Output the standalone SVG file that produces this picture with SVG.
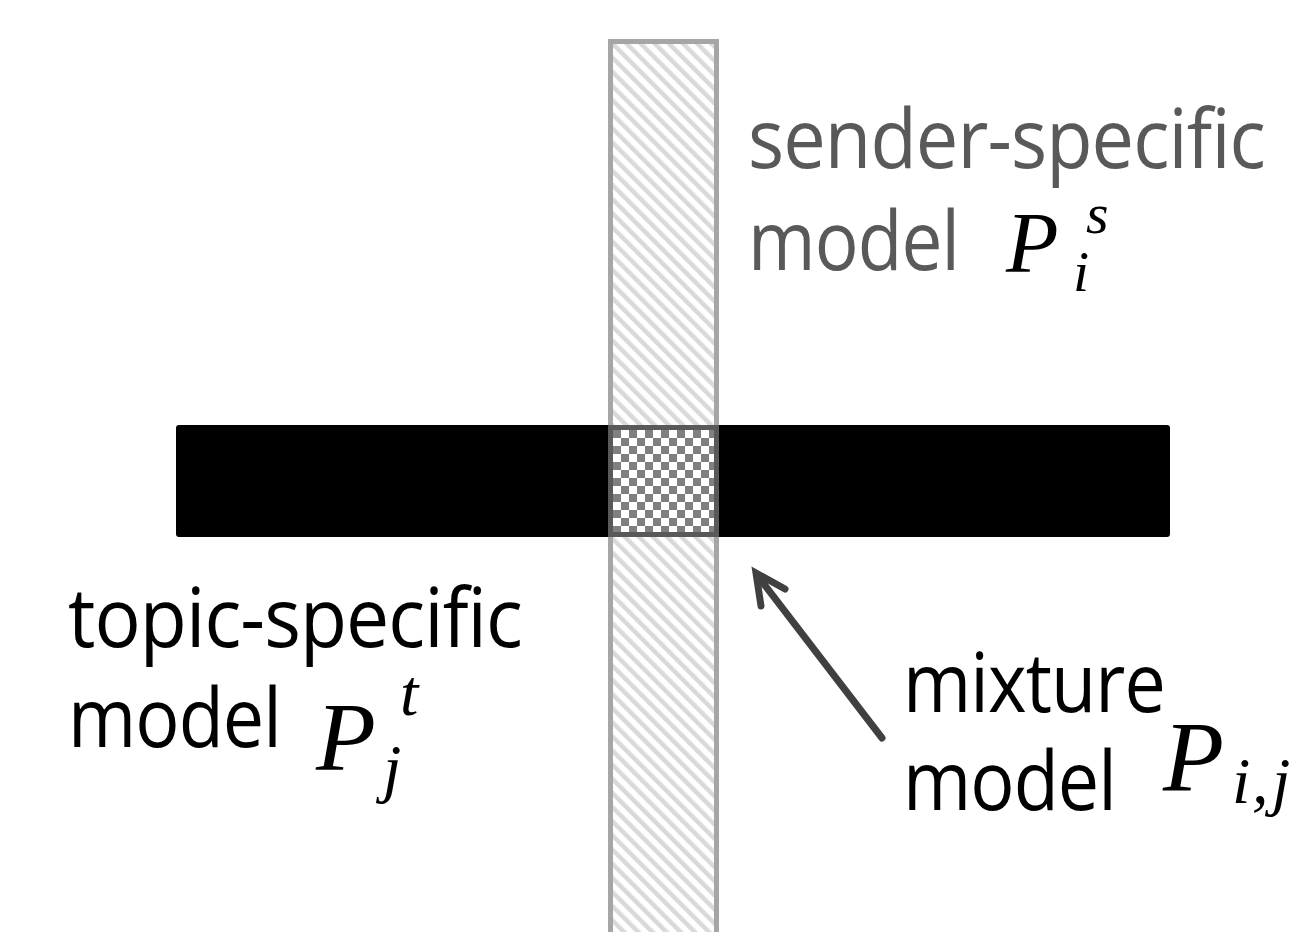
<svg xmlns="http://www.w3.org/2000/svg" width="1309" height="932" viewBox="0 0 1309 932">
  <style>
    .lbl { font-family: "Open Sans", "Liberation Sans", sans-serif; font-size: 82px; letter-spacing: -1px; }
    .math { font-family: "Liberation Serif", "DejaVu Serif", serif; font-style: italic; }
  </style>
  <defs>
    <pattern id="hatch" patternUnits="userSpaceOnUse" width="10" height="10" patternTransform="rotate(-45)">
      <rect width="10" height="10" fill="#ffffff"/>
      <rect x="0" y="0" width="4.5" height="10" fill="#d9d9d9"/>
    </pattern>
    <pattern id="checker" patternUnits="userSpaceOnUse" x="613" y="430" width="16" height="16">
      <rect width="16" height="16" fill="#ffffff"/>
      <rect x="0" y="0" width="8" height="8" fill="#808080"/>
      <rect x="8" y="8" width="8" height="8" fill="#808080"/>
    </pattern>
  </defs>
  <rect width="1309" height="932" fill="#ffffff"/>

  <g id="sender-bar">
    <rect x="610.5" y="41.5" width="106" height="900" fill="url(#hatch)" stroke="#a6a6a6" stroke-width="5"/>
  </g>
  <g id="topic-bar">
    <rect x="176" y="425" width="994" height="112" rx="3" fill="#000000"/>
  </g>
  <g id="mixture-cell">
    <rect x="610.5" y="427.5" width="106" height="107" fill="url(#checker)" stroke="#595959" stroke-width="5"/>
  </g>

  <g id="connectors">
    <line x1="882" y1="738" x2="757" y2="575" stroke="#404040" stroke-width="7" stroke-linecap="round"/>
    <polyline points="785,589 756,573 761,606" fill="none" stroke="#404040" stroke-width="7" stroke-linecap="round" stroke-linejoin="miter"/>
  </g>

  <g id="sender-label">
    <text class="lbl" x="748" y="168" fill="#595959" textLength="517" lengthAdjust="spacingAndGlyphs">sender-specific</text>
    <text class="lbl" x="748" y="270" fill="#595959" textLength="211" lengthAdjust="spacingAndGlyphs">model</text>
    <text class="math" fill="#000000"><tspan x="1006" y="272" font-size="86">P</tspan><tspan x="1086" y="233" font-size="58">s</tspan><tspan x="1073" y="291" font-size="58">i</tspan></text>
  </g>

  <g id="topic-label" fill="#000000">
    <text class="lbl" x="68" y="647" textLength="454" lengthAdjust="spacingAndGlyphs">topic-specific</text>
    <text class="lbl" x="68" y="747" textLength="213" lengthAdjust="spacingAndGlyphs">model</text>
    <text class="math"><tspan x="316" y="770" font-size="98">P</tspan><tspan x="400" y="715" font-size="66">t</tspan><tspan x="383" y="790" font-size="66">j</tspan></text>
  </g>

  <g id="mixture-label" fill="#000000">
    <text class="lbl" x="903" y="712" textLength="262" lengthAdjust="spacingAndGlyphs">mixture</text>
    <text class="lbl" x="903" y="810" textLength="213" lengthAdjust="spacingAndGlyphs">model</text>
    <text class="math"><tspan x="1163" y="790" font-size="100">P</tspan><tspan x="1232" y="803" font-size="66">i</tspan><tspan x="1252" y="803" font-size="66">,</tspan><tspan x="1272" y="803" font-size="66">j</tspan></text>
  </g>
</svg>
